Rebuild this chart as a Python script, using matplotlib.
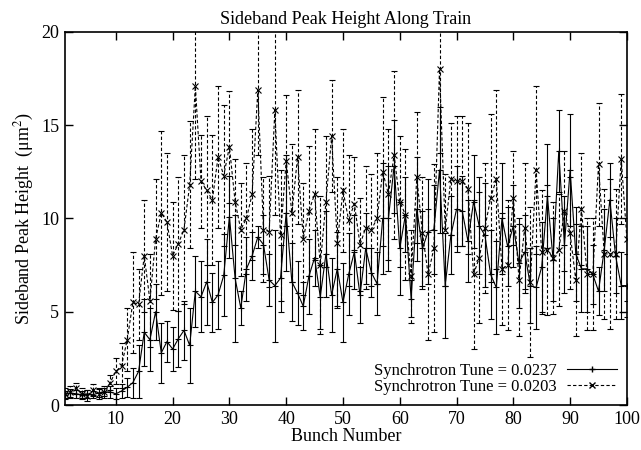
# Sideband peak height along the bunch train, two synchrotron tunes
import matplotlib
matplotlib.use('Agg')
import matplotlib.pyplot as plt
from matplotlib.lines import Line2D

plt.rcParams['font.family'] = ['Liberation Serif', 'DejaVu Serif']
plt.rcParams['mathtext.fontset'] = 'stix'

bunch = list(range(1, 101))

# Synchrotron tune = 0.0237 (solid)
peak_a = [0.55, 0.65, 0.6, 0.55, 0.6, 0.55, 0.65, 0.7,
          0.7, 0.6, 0.75, 0.95, 1.2, 1.8,
          3.9, 3.5, 5.0, 2.8, 3.4, 3.0, 3.55, 4.0, 3.2, 6.1, 5.8, 6.6,
          5.5, 5.9, 6.95, 10.1, 6.8, 5.2, 7.3, 8.0, 9.0, 8.6, 6.7, 6.4, 6.8, 10.3,
          6.6, 6.0, 5.3, 6.9, 7.9, 5.8, 8.1, 5.9, 7.3, 5.5, 7.0,
          8.2, 5.9, 8.4, 7.1, 6.5, 10.0, 10.0, 12.8, 8.4, 10.2, 5.7, 10.5, 8.4,
          9.3, 9.4, 12.6, 6.4, 9.1, 10.5, 10.4, 8.8, 10.9, 9.6, 9.1, 7.0,
          6.3, 10.0, 8.5, 9.6, 7.6, 8.2, 6.4, 6.3, 7.4, 11.2, 7.8, 13.6, 8.6,
          12.6, 8.1, 7.3, 7.3, 7.0, 6.1, 8.3, 11.0, 8.0, 6.4, 6.4]
err_a = [0.2, 0.2, 0.2, 0.2, 0.2, 0.2, 0.2, 0.2,
         0.3, 0.3, 0.4, 0.5, 0.8, 1.4,
         1.8, 1.7, 1.5, 1.6, 1.1, 1.2, 1.5, 1.6, 2.0, 1.9, 1.9, 2.3,
         1.6, 1.8, 2.2, 2.2, 3.4, 0.9, 1.7, 1.3, 0.6, 1.6, 1.4, 3.0, 1.8, 3.1,
         2.1, 1.7, 1.3, 2.0, 1.5, 1.7, 2.3, 2.0, 2.0, 2.1, 2.2,
         2.0, 1.5, 1.9, 1.3, 1.7, 3.0, 2.8, 2.5, 2.5, 2.0, 1.0, 2.8, 2.0,
         2.8, 2.4, 3.4, 2.8, 2.1, 2.3, 1.9, 2.2, 2.5, 2.6, 2.8, 2.4,
         2.5, 3.0, 2.1, 2.2, 2.4, 2.0, 2.0, 2.2, 2.4, 2.8, 2.2, 2.2, 2.6,
         3.0, 2.5, 2.3, 2.3, 1.6, 1.3, 2.2, 2.0, 2.0, 1.8, 1.7]

# Synchrotron tune = 0.0203 (dashed)
peak_b = [0.6, 0.7, 0.9, 0.6, 0.5, 0.8, 0.6, 0.7,
          1.2, 1.8, 2.1, 3.5, 5.5, 5.4,
          8.0, 5.6, 8.9, 10.3, 9.8, 8.0, 8.65, 9.4, 11.8, 17.1, 12.0, 11.5,
          11.0, 13.3, 12.3, 13.85, 10.9, 9.4, 10.0, 11.3, 16.9, 9.4, 9.3, 15.8,
          9.1, 13.1, 10.3, 13.3, 8.9, 10.4, 11.3, 7.5, 10.9, 14.4, 8.7, 11.5, 9.9,
          10.8, 8.6, 9.5, 9.4, 10.0, 12.5, 11.3, 13.4, 10.9, 10.2, 6.9, 12.2, 9.2,
          7.0, 8.4, 18.0, 9.4, 12.1, 12.0, 12.0, 11.6, 7.0, 7.9, 9.5, 11.1,
          12.1, 7.3, 7.5, 11.1, 6.7, 9.5, 6.6, 12.6, 8.2, 8.3, 7.9, 8.3, 10.4,
          9.2, 6.7, 10.5, 7.0, 7.0, 12.9, 8.1, 8.1, 8.1, 13.2, 8.9]
err_b = [0.3, 0.3, 0.3, 0.3, 0.3, 0.3, 0.3, 0.3,
         0.4, 0.7, 1.2, 1.7, 2.7, 1.9,
         3.0, 2.5, 3.2, 4.4, 3.7, 2.9, 3.6, 4.0, 3.4, 5.0, 2.5, 4.0,
         3.5, 3.8, 3.8, 3.0, 2.3, 2.5, 3.0, 3.5, 3.5, 2.8, 3.0, 5.6, 3.5, 3.5,
         3.7, 3.6, 3.0, 3.5, 3.5, 3.7, 3.5, 3.0, 3.5, 3.3, 3.5,
         2.5, 2.5, 3.3, 3.0, 3.5, 4.0, 3.5, 4.5, 3.5, 3.5, 2.5, 3.5, 3.0,
         3.5, 4.5, 4.5, 3.0, 3.0, 3.5, 3.5, 3.5, 4.0, 3.5, 3.5, 4.5,
         4.8, 3.0, 3.5, 2.5, 3.0, 3.5, 4.0, 4.5, 3.3, 3.5, 3.0, 3.0, 3.2,
         3.0, 3.0, 3.0, 3.0, 3.0, 3.3, 3.5, 4.0, 3.5, 3.5, 3.3]

fig = plt.figure(figsize=(6.41, 4.5), dpi=100)
ax = fig.add_axes([0.101, 0.10, 0.877, 0.829])

ax.errorbar(bunch, peak_a, yerr=err_a, color='black', lw=0.8, elinewidth=0.8,
            capsize=2.5, capthick=0.8, marker='+', ms=5, mew=0.8)
eb = ax.errorbar(bunch, peak_b, yerr=err_b, color='black', lw=0.8, ls=(0, (3, 2)),
                 elinewidth=0.8, capsize=2.5, capthick=0.8, marker='x', ms=4, mew=0.8)
eb[2][0].set_linestyle((0, (3, 2)))

ax.set_xlim(1, 100)
ax.set_ylim(0, 20)
ax.set_xticks(range(10, 101, 10))
ax.set_yticks(range(0, 21, 5))
ax.tick_params(direction='in', top=True, right=True, length=6, width=1,
               labelsize=13, pad=4)
for s in ax.spines.values():
    s.set_linewidth(1.2)

ax.set_title('Sideband Peak Height Along Train', fontsize=13, pad=6)
ax.set_xlabel('Bunch Number', fontsize=13, labelpad=0)
ax.set_ylabel('Sideband Peak Height  (μm$^2$)', fontsize=13, labelpad=4)

handles = [Line2D([], [], color='black', lw=0.8, marker='+', ms=5),
           Line2D([], [], color='black', lw=0.8, ls=(0, (3, 2)), marker='x', ms=4)]
ax.legend(handles, ['Synchrotron Tune = 0.0237', 'Synchrotron Tune = 0.0203'],
          loc='lower right', frameon=False, markerfirst=False, fontsize=12,
          handlelength=3.0, labelspacing=0.0, borderaxespad=0.2,
          handletextpad=0.6)

fig.savefig('out.png', dpi=100)
